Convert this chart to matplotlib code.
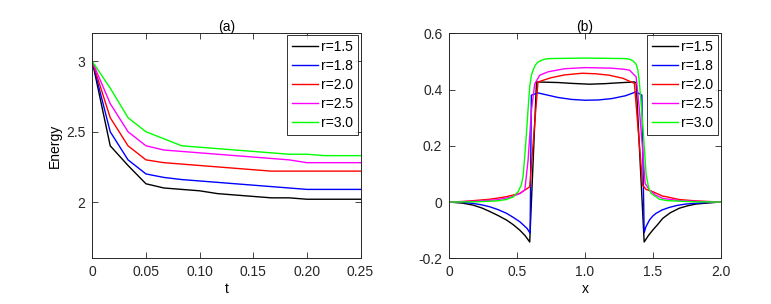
import matplotlib
matplotlib.use("Agg")
import matplotlib.pyplot as plt

plt.rcParams['font.family'] = ['Liberation Sans', 'DejaVu Sans']

labels = ["r=1.5", "r=1.8", "r=2.0", "r=2.5", "r=3.0"]
colors = ["#000000", "#0000ff", "#ff0000", "#ff00ff", "#00ff00"]

# Panel (a): energy vs time
t = [0, 0.0167, 0.0333, 0.05, 0.0667, 0.0833, 0.1, 0.1167, 0.1333, 0.15,
     0.1667, 0.1833, 0.2, 0.2167, 0.2333, 0.25]
E_15 = [3.0, 2.40, 2.26, 2.13, 2.10, 2.09, 2.08, 2.06, 2.05, 2.04, 2.03, 2.03, 2.02, 2.02, 2.02, 2.02]
E_18 = [3.0, 2.50, 2.30, 2.20, 2.175, 2.16, 2.15, 2.14, 2.13, 2.12, 2.11, 2.10, 2.09, 2.09, 2.09, 2.09]
E_20 = [3.0, 2.60, 2.40, 2.30, 2.28, 2.27, 2.26, 2.25, 2.24, 2.23, 2.22, 2.22, 2.22, 2.22, 2.22, 2.22]
E_25 = [3.0, 2.70, 2.50, 2.40, 2.37, 2.36, 2.35, 2.34, 2.33, 2.32, 2.31, 2.30, 2.28, 2.28, 2.28, 2.28]
E_30 = [3.0, 2.81, 2.60, 2.50, 2.45, 2.40, 2.39, 2.38, 2.37, 2.36, 2.35, 2.34, 2.34, 2.33, 2.33, 2.33]

# Panel (b): profiles vs x
x_15 = [0, 0.1, 0.176, 0.24, 0.30, 0.36, 0.422, 0.47, 0.52, 0.56, 0.593,
        0.643, 0.8, 0.9, 1.035, 1.15, 1.25, 1.365, 1.378,
        1.437, 1.47, 1.5, 1.54, 1.574, 1.63, 1.696, 1.76, 1.82, 1.94, 2.0]
u_15 = [0, -0.004, -0.011, -0.021, -0.034, -0.048, -0.064, -0.08, -0.10, -0.12, -0.142,
        0.427, 0.425, 0.422, 0.419, 0.421, 0.424, 0.427, 0.424,
        -0.142, -0.118, -0.10, -0.078, -0.058, -0.038, -0.022, -0.013, -0.007, -0.002, 0]

x_18 = [0, 0.1, 0.176, 0.24, 0.30, 0.36, 0.422, 0.47, 0.52, 0.574, 0.596,
        0.605, 0.654, 0.8, 0.9, 1.0, 1.1, 1.2, 1.3, 1.378, 1.42,
        1.437, 1.45, 1.476, 1.50, 1.525, 1.57, 1.623, 1.68, 1.745, 1.89, 2.0]
u_18 = [0, -0.001, -0.005, -0.01, -0.017, -0.027, -0.040, -0.054, -0.07, -0.094, -0.111,
        0.38, 0.388, 0.372, 0.365, 0.362, 0.363, 0.368, 0.378, 0.392, 0.38,
        -0.109, -0.088, -0.064, -0.05, -0.04, -0.028, -0.019, -0.012, -0.007, -0.002, 0]

x_20 = [0, 0.1, 0.176, 0.30, 0.422, 0.52, 0.593,
        0.654, 0.75, 0.85, 0.98, 1.08, 1.18, 1.28, 1.365,
        1.426, 1.451, 1.5, 1.574, 1.6, 1.696, 1.82, 2.0]
u_20 = [0, 0.002, 0.005, 0.01, 0.019, 0.031, 0.054,
        0.427, 0.442, 0.452, 0.458, 0.456, 0.451, 0.440, 0.422,
        0.06, 0.045, 0.037, 0.021, 0.019, 0.009, 0.004, 0]

x_25 = [0, 0.2, 0.35, 0.45, 0.52, 0.557, 0.581, 0.606, 0.63, 0.667, 0.728,
        0.85, 1.0, 1.2, 1.29, 1.329, 1.378, 1.40, 1.426, 1.444, 1.476,
        1.52, 1.574, 1.70, 1.85, 2.0]
u_25 = [0, 0.003, 0.008, 0.017, 0.03, 0.043, 0.149, 0.327, 0.42, 0.451, 0.463,
        0.474, 0.478, 0.476, 0.472, 0.469, 0.445, 0.339, 0.185, 0.066, 0.043,
        0.025, 0.013, 0.005, 0.002, 0]

x_30 = [0, 0.2, 0.35, 0.42, 0.47, 0.508, 0.53, 0.544, 0.556, 0.569, 0.581, 0.593, 0.605,
        0.618, 0.635, 0.654, 0.69, 0.728, 1.0, 1.3, 1.329, 1.355, 1.378, 1.39, 1.40,
        1.413, 1.426, 1.44, 1.451, 1.47, 1.488, 1.55, 1.61, 1.8, 2.0]
u_30 = [0, 0.001, 0.004, 0.009, 0.018, 0.037, 0.06, 0.09, 0.16, 0.244, 0.33, 0.41, 0.45,
        0.469, 0.487, 0.498, 0.506, 0.51, 0.512, 0.51, 0.508, 0.502, 0.49, 0.47, 0.433,
        0.36, 0.28, 0.18, 0.10, 0.05, 0.031, 0.01, 0.005, 0.001, 0]

E_series = [E_15, E_18, E_20, E_25, E_30]
x_series = [x_15, x_18, x_20, x_25, x_30]
u_series = [u_15, u_18, u_20, u_25, u_30]

W, H = 771, 304
fig = plt.figure(figsize=(W / 100, H / 100), dpi=100)
ax1 = fig.add_axes([92.3 / W, (H - 258.3) / H, (360.5 - 92.3) / W, 225 / H])
ax2 = fig.add_axes([449.3 / W, (H - 258.3) / H, (720.5 - 449.3) / W, 225 / H])

edge = "#262626"
fs = 10

for E, c, lab in zip(E_series, colors, labels):
    ax1.plot(t, E, color=c, lw=1.0, label=lab)
for xs, us, c, lab in zip(x_series, u_series, colors, labels):
    ax2.plot(xs, us, color=c, lw=1.0, label=lab)

ax1.set_xlim(0, 0.25)
ax1.set_ylim(1.6, 3.2)
ax1.set_xticks([0, 0.05, 0.10, 0.15, 0.20, 0.25])
ax1.set_xticklabels(["0", "0.05", "0.10", "0.15", "0.20", "0.25"])
ax1.set_yticks([2, 2.5, 3])
ax1.set_yticklabels(["2", "2.5", "3"])
ax1.set_xlabel("t", fontsize=fs, labelpad=2)
ax1.set_ylabel("Energy", fontsize=fs, labelpad=3)
ax1.set_title("(a)", fontsize=fs, pad=2)

ax2.set_xlim(0, 2.0)
ax2.set_ylim(-0.2, 0.6)
ax2.set_xticks([0, 0.5, 1.0, 1.5, 2.0])
ax2.set_xticklabels(["0", "0.5", "1.0", "1.5", "2.0"])
ax2.set_yticks([-0.2, 0, 0.2, 0.4, 0.6])
ax2.set_yticklabels(["-0.2", "0", "0.2", "0.4", "0.6"])
ax2.set_xlabel("x", fontsize=fs, labelpad=2)
ax2.set_title("(b)", fontsize=fs, pad=2)

for ax in (ax1, ax2):
    ax.tick_params(direction="in", top=True, right=True, length=4, width=0.6,
                   labelsize=fs, colors=edge, pad=5)
    for s in ax.spines.values():
        s.set_color(edge)
        s.set_linewidth(0.7)
    leg = ax.legend(loc="upper right", fontsize=fs, frameon=True, fancybox=False,
                    handlelength=1.9, handletextpad=0.25, borderpad=0.35,
                    labelspacing=0.36, borderaxespad=0.15)
    leg.get_frame().set_edgecolor("#000000")
    leg.get_frame().set_linewidth(0.7)

fig.savefig("out.png", dpi=100)
